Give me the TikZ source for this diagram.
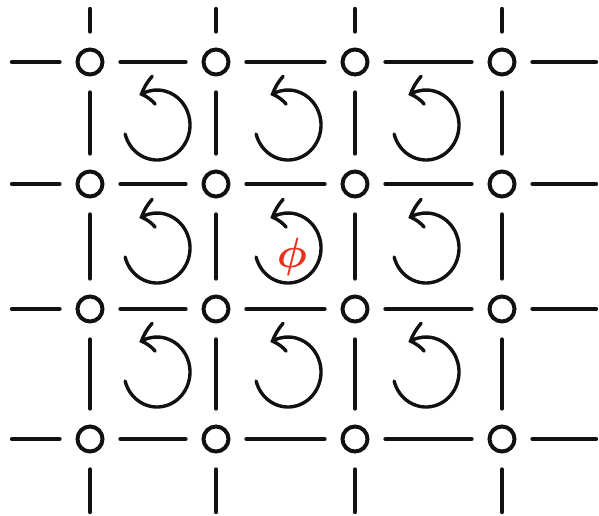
\documentclass[tikz,border=0pt]{standalone}
\usepackage{tikz}
\usepackage{xcolor}
\usetikzlibrary{arrows.meta,bending}
\definecolor{ink}{HTML}{111111}
\definecolor{fluxred}{HTML}{E8321E}
\tikzset{
  site/.style={draw=ink,circle,line width=4pt,
               minimum size=25pt,inner sep=0pt},
  link/.style={draw=ink,line width=4.4pt,line cap=round,
               shorten <=16pt,shorten >=16pt},
  stub/.style={draw=ink,line width=4.4pt,line cap=round,shorten >=16pt},
  turn/.style={draw=ink,line width=3.4pt,line cap=round,
               -{Straight Barb[length=13pt,width=28pt,line cap=round,bend]}},
  fluxlabel/.style={text=fluxred,font=\Huge\boldmath,scale=1.7,inner sep=0pt}
}

\begin{document}
\begin{tikzpicture}[x=1pt,y=1pt]
  \useasboundingbox (0,0) rectangle (599,515);
  % lattice sites
  \foreach \x [count=\i] in {90,216,355,502}
    \foreach \y [count=\j] in {453,331,206,76}
      \node[site] (s-\i-\j) at (\x,\y) {};
  % links between neighbouring sites
  \foreach \i/\k in {1/2,2/3,3/4}
    \foreach \j in {1,...,4}{
      \draw[link] (s-\i-\j) -- (s-\k-\j);
      \draw[link] (s-\j-\i) -- (s-\j-\k);
    }
  % links leaving the patch
  \foreach \j/\y in {1/453,2/331,3/206,4/76}{
    \coordinate (w-\j) at (12,\y);
    \coordinate (e-\j) at (596,\y);
    \draw[stub] (w-\j) -- (s-1-\j);
    \draw[stub] (e-\j) -- (s-4-\j);
  }
  \foreach \i/\x in {1/90,2/216,3/355,4/502}{
    \coordinate (n-\i) at (\x,506);
    \coordinate (b-\i) at (\x,3);
    \draw[stub] (n-\i) -- (s-\i-1);
    \draw[stub] (b-\i) -- (s-\i-4);
  }
  % plaquette circulations
  \foreach \x [count=\i] in {157,288,426}
    \foreach \y [count=\j] in {390,267,143}{
      \coordinate (p-\i-\j) at (\x,\y);
      \draw[turn] (p-\i-\j) ++(195:33pt and 35pt)
        arc[start angle=195,end angle=482,x radius=33pt,y radius=35pt];
    }
  \node[fluxlabel] (phi) at (292,258) {$\phi$};
\end{tikzpicture}
\end{document}
